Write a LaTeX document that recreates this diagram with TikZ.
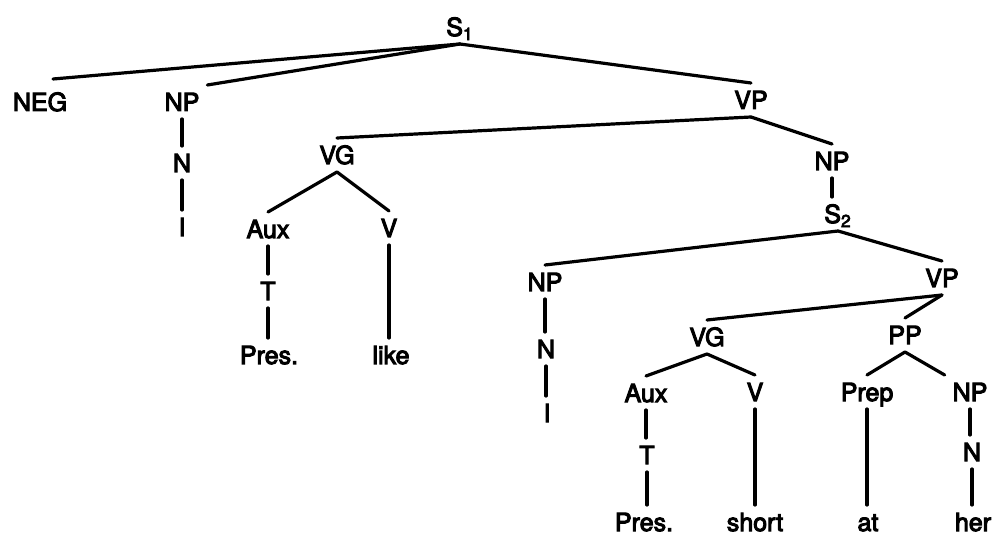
\documentclass[tikz,border=0pt]{standalone}
\usepackage{fontspec}
\newfontfamily\treefont{TeX Gyre Heros}[FakeBold=4]

\begin{document}
\begin{tikzpicture}[x=0.5pt,y=-0.5pt]
  \tikzstyle{every node} = [inner sep=2pt, outer sep=2pt, text height=9pt, text depth=0pt,
                            font=\treefont\fontsize{12.5}{15}\selectfont]
  \tikzstyle{branch} = [line width=1.6pt, line cap=round]
  \useasboundingbox (0,0) rectangle (996,534);

  % main clause
  \node (s1)    at (460,27)  {S\textsubscript{1}};
  \node (neg)   at (40,102)  {NEG};
  \node (np1)   at (182,102) {NP};
  \node (n1)    at (182,163) {N};
  \node (i1)    at (182,227) {I};
  \node (vp1)   at (751,100) {VP};
  \node (vg1)   at (337,155) {VG};
  \node (aux1)  at (268,229) {Aux};
  \node (t1)    at (268,291) {T};
  \node (pres1) at (269,355) {Pres.};
  \node (v1)    at (389,228) {V};
  \node (like)  at (391,355) {like};
  \node (np2)   at (832,161) {NP};

  % embedded clause
  \node (s2)    at (838,214) {S\textsubscript{2}};
  \node (np3)   at (545,282) {NP};
  \node (n3)    at (546,349) {N};
  \node (i3)    at (547,413) {I};
  \node (vp2)   at (942,278) {VP};
  \node (vg2)   at (707,337) {VG};
  \node (aux2)  at (646,393) {Aux};
  \node (t2)    at (647,455) {T};
  \node (pres2) at (644,522) {Pres.};
  \node (v2)    at (755,392) {V};
  \node (short) at (755,522) {short};
  \node (pp)    at (905,335) {PP};
  \node (prep)  at (867,392) {Prep};
  \node (at)    at (868,522) {at};
  \node (np4)   at (970,392) {NP};
  \node (n4)    at (972,452) {N};
  \node (her)   at (973,522) {her};

  % slanted branches
  \foreach \a/\b in {s1/vp1, vp1/vg1, vp1/np2, vg1/aux1, vg1/v1, s2/np3, s2/vp2,
                     vp2/vg2, vp2/pp, vg2/aux2, vg2/v2, pp/prep}
    \draw[branch] (\a.south) -- (\b.north);
  \draw[branch] (s1.south) -- ([shift={(13,-6)}]neg.north);
  \draw[branch] (s1.south) -- (np1.north east);
  \draw[branch] (pp.south) -- (np4.north west);

  % straight down
  \foreach \a/\b in {np1/n1, n1/i1, aux1/t1, t1/pres1, v1/like, np2/s2, np3/n3, n3/i3,
                     aux2/t2, t2/pres2, v2/short, prep/at, np4/n4, n4/her}
    \draw[branch] (\b.north -| \a.south) -- (\a.south);
\end{tikzpicture}
\end{document}
